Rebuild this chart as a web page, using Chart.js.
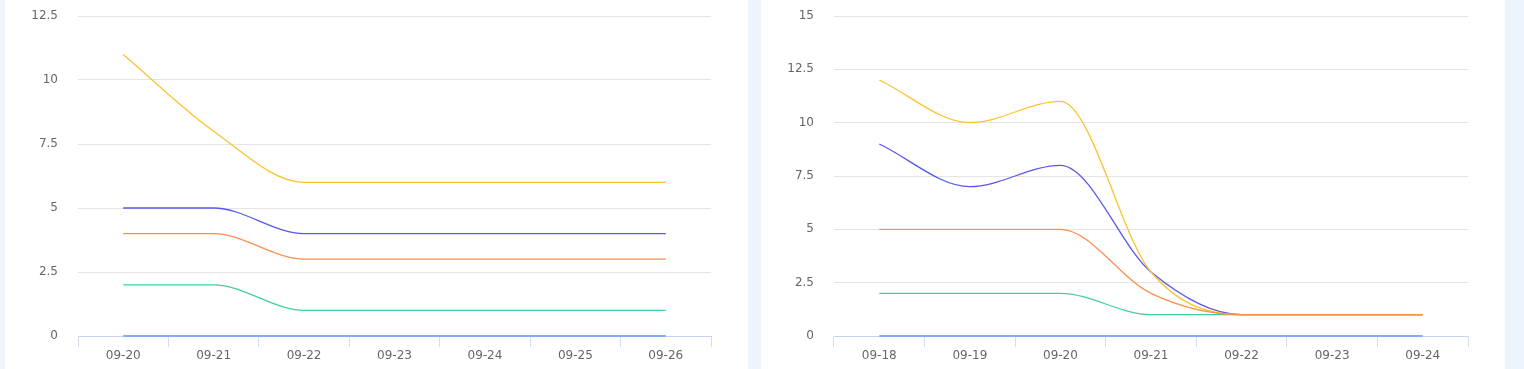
<!DOCTYPE html>
<html>
<head>
<meta charset="utf-8">
<script src="https://cdn.jsdelivr.net/npm/chart.js@4.4.1/dist/chart.umd.min.js"></script>
<style>
    html, body { margin: 0; padding: 0; }
    body { width: 1524px; height: 369px; background: #eef4fb; position: relative; overflow: hidden; }
    .panel { position: absolute; top: 0; height: 369px; background: #ffffff; }
    #panel-gauche { left: 5px; width: 743px; }
    #panel-droite { left: 761px; width: 744px; }
</style>
</head>
<body>
<div class="panel" id="panel-gauche"><canvas id="graphique-gauche" width="743" height="369"></canvas></div>
<div class="panel" id="panel-droite"><canvas id="graphique-droite" width="744" height="369"></canvas></div>
<script>
const joursGauche = ['09-20', '09-21', '09-22', '09-23', '09-24', '09-25', '09-26'];
const jauneGauche = [11, 8, 6, 6, 6, 6, 6];
const violetGauche = [5, 5, 4, 4, 4, 4, 4];
const orangeGauche = [4, 4, 3, 3, 3, 3, 3];
const vertGauche = [2, 2, 1, 1, 1, 1, 1];
const bleuGauche = [0, 0, 0, 0, 0, 0, 0];

const joursDroite = ['09-18', '09-19', '09-20', '09-21', '09-22', '09-23', '09-24'];
const jauneDroite = [12, 10, 11, 3, 1, 1, 1];
const violetDroite = [9, 7, 8, 3, 1, 1, 1];
const orangeDroite = [5, 5, 5, 2, 1, 1, 1];
const vertDroite = [2, 2, 2, 1, 1, 1, 1];
const bleuDroite = [0, 0, 0, 0, 0, 0, 0];

const couleurs = {
    jaune: '#fbc42e',
    violet: '#5757ee',
    orange: '#fb8f4f',
    vert: '#3fcfa6',
    bleu: '#82acf3',
};

function serie(data, couleur, epaisseur) {
    return {
        data: data,
        borderColor: couleur,
        borderWidth: epaisseur || 1.3,
        pointRadius: 0,
        fill: false,
        clip: false,
        cubicInterpolationMode: 'monotone',
    };
}

function creerGraphique(id, labels, series, maxY) {
    const config = {
        type: 'line',
        data: {
            labels: labels,
            datasets: series,
        },
        options: {
            responsive: false,
            animation: false,
            layout: { padding: { top: 16, right: 37, left: 0, bottom: 0 } },
            plugins: { legend: { display: false }, tooltip: { enabled: false } },
            scales: {
                x: {
                    offset: true,
                    grid: {
                        offset: true,
                        drawOnChartArea: false,
                        drawTicks: true,
                        tickLength: 11,
                        color: '#d5deef',
                    },
                    border: { display: true, color: '#c9d4ea', width: 1 },
                    ticks: {
                        color: '#666666',
                        font: { family: 'DejaVu Sans', size: 12 },
                        padding: 2,
                        maxRotation: 0,
                        autoSkip: false,
                    },
                    afterFit: (scale) => { scale.height = 33; },
                },
                y: {
                    min: 0,
                    max: maxY,
                    ticks: {
                        stepSize: 2.5,
                        color: '#666666',
                        font: { family: 'DejaVu Sans', size: 12 },
                        padding: 20,
                    },
                    grid: { color: '#e4e4e4', drawTicks: false },
                    border: { display: false },
                    afterFit: (scale) => {
                        scale.width = 73;
                        scale.paddingTop = 0;
                        scale.paddingBottom = 0;
                    },
                },
            },
        },
    };
    new Chart(document.querySelector(id), config);
}

creerGraphique('#graphique-gauche', joursGauche, [
    serie(bleuGauche, couleurs.bleu, 2),
    serie(jauneGauche, couleurs.jaune),
    serie(orangeGauche, couleurs.orange),
    serie(violetGauche, couleurs.violet),
    serie(vertGauche, couleurs.vert),
], 12.5);

creerGraphique('#graphique-droite', joursDroite, [
    serie(bleuDroite, couleurs.bleu, 2),
    serie(orangeDroite, couleurs.orange),
    serie(jauneDroite, couleurs.jaune),
    serie(violetDroite, couleurs.violet),
    serie(vertDroite, couleurs.vert),
], 15);
</script>
</body>
</html>
